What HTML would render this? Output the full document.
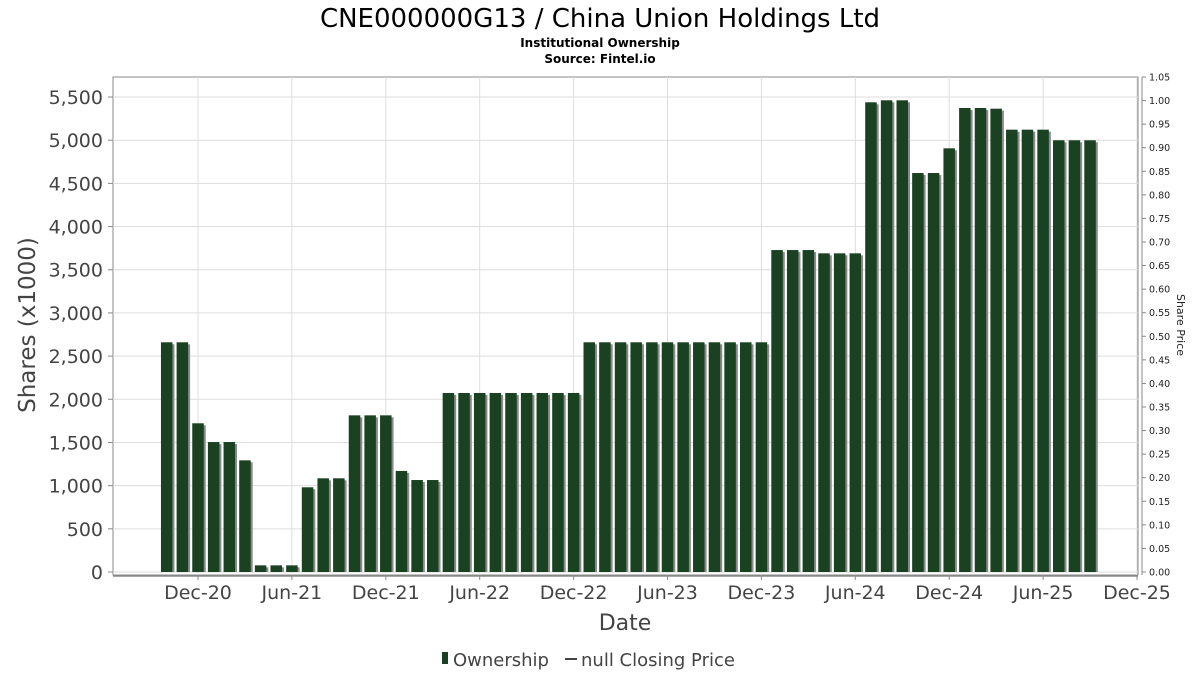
<!DOCTYPE html>
<html><head><meta charset="utf-8"><style>
body{margin:0;background:#fff;}
svg text{font-family:"DejaVu Sans","Liberation Sans",sans-serif;}
</style></head><body>
<svg id="chart" width="1200" height="675" viewBox="0 0 1200 675" xmlns="http://www.w3.org/2000/svg">
<rect width="1200" height="675" fill="#fff"/>
<text x="600" y="27" text-anchor="middle" font-size="26" fill="#000">CNE000000G13 / China Union Holdings Ltd</text>
<text x="600" y="47" text-anchor="middle" font-size="12" font-weight="bold" fill="#000">Institutional Ownership</text>
<text x="600" y="63" text-anchor="middle" font-size="12" font-weight="bold" fill="#000">Source: Fintel.io</text>
<rect x="113" y="77" width="1025" height="498" fill="#fff" stroke="#888" stroke-width="1"/>
<g id="grid"></g>
<g id="bars"></g>
<g id="axes"></g>
<text transform="translate(35,325) rotate(-90)" text-anchor="middle" font-size="23" fill="#444">Shares (x1000)</text>
<text x="625" y="630" text-anchor="middle" font-size="22" fill="#444">Date</text>
<text transform="translate(1177,325) rotate(90)" text-anchor="middle" font-size="11" fill="#222">Share Price</text>
<g>
<rect x="442" y="652" width="6" height="12" fill="#1a4222"/>
<text x="453" y="666" font-size="18" fill="#444">Ownership</text>
<line x1="565" y1="659" x2="577" y2="659" stroke="#444" stroke-width="2"/>
<text x="581" y="666" font-size="18" fill="#444">null Closing Price</text>
</g>
</svg>
<script>
// months since Jan 2020 (Oct-20 = 9)
const months = [9,10,11,12,13,14,15,16,17,18,19,20,21,22,23,24,25,26,27,28,29,30,31,32,33,34,35,36,37,38,39,40,41,42,43,44,45,46,47,48,49,50,51,52,53,54,55,56,57,58,59,60,61,62,63,64,65,66,67,68];
const shares = [2660,2660,1722,1505,1505,1293,77,77,77,981,1085,1085,1814,1814,1814,1170,1065,1065,
2073,2073,2073,2073,2073,2073,2073,2073,2073,
2660,2660,2660,2660,2660,2660,2660,2660,2660,2660,2660,2660,
3728,3728,3728,3690,3690,3690,5439,5462,5462,4620,4620,4906,5373,5373,5365,5122,5122,5122,4999,4999,4999];
const yTicks = [0,500,1000,1500,2000,2500,3000,3500,4000,4500,5000,5500];
const priceTicks = [0,0.05,0.10,0.15,0.20,0.25,0.30,0.35,0.40,0.45,0.50,0.55,0.60,0.65,0.70,0.75,0.80,0.85,0.90,0.95,1.00,1.05];
const xTickMonths = [11,17,23,29,35,41,47,53,59,65,71];
const xTickLabels = ["Dec-20","Jun-21","Dec-21","Jun-22","Dec-22","Jun-23","Dec-23","Jun-24","Dec-24","Jun-25","Dec-25"];

const NS="http://www.w3.org/2000/svg";
const x = m => 166.7 + 15.65*(m-9);
const y = v => 572 - v*0.08636;
const yp = p => 572 - p*(495/1.05);
function mk(tag, attrs, parent, txt){const e=document.createElementNS(NS,tag);for(const k in attrs)e.setAttribute(k,attrs[k]);if(txt!==undefined)e.textContent=txt;parent.appendChild(e);return e;}
const grid=document.getElementById('grid'), bars=document.getElementById('bars'), axes=document.getElementById('axes');
yTicks.forEach(v=>{
  const l=mk('line',{x1:113,x2:1138,y1:y(v),y2:y(v),stroke:'#ddd','stroke-width':1},grid);
  
  
  const t=mk('text',{x:103,y:y(v)+7,'text-anchor':'end','font-size':19,fill:'#444'},axes,v.toLocaleString('en-US'));
  
  
  const tk=mk('line',{x1:108,x2:113,y1:y(v),y2:y(v),stroke:'#888'},axes);
  
  
});
xTickMonths.forEach((m,i)=>{
  const l=mk('line',{x1:x(m),x2:x(m),y1:77,y2:575,stroke:'#ddd','stroke-width':1},grid);
  
  
  const tk=mk('line',{x1:x(m),x2:x(m),y1:576,y2:580,stroke:'#888'},axes);
  
  
  const t=mk('text',{x:x(m),y:599,'text-anchor':'middle','font-size':19,fill:'#444'},axes,xTickLabels[i]);
  
  
});
const xl=mk('line',{x1:113,x2:1138,y1:576,y2:576,stroke:'#888','stroke-width':1.5},axes);


const ra=mk('line',{x1:1142,x2:1142,y1:77,y2:575,stroke:'#888'},axes);


priceTicks.forEach(p=>{
  const tk=mk('line',{x1:1142,x2:1146,y1:yp(p),y2:yp(p),stroke:'#888'},axes);
  
  
  const t=mk('text',{x:1149,y:yp(p)+3.5,'font-size':9.5,fill:'#222'},axes,p.toFixed(2));
  
  
});
months.forEach((m,i)=>{
  const cx=x(m), w=11.5, top=y(shares[i]);
  const s=mk('rect',{x:cx-w/2+2,y:top+2,width:w,height:572-top-2,fill:'#8a8a8a'},bars);
  
  
  const b=mk('rect',{x:cx-w/2,y:top,width:w,height:572-top,fill:'#1a4222'},bars);
  
  
});
</script>
</body></html>
